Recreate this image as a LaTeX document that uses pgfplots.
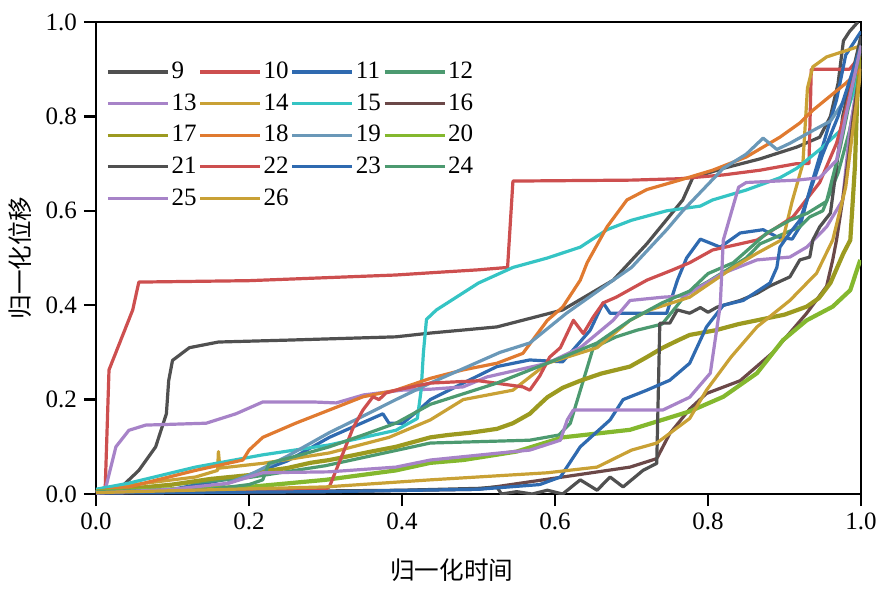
\documentclass[border=0pt]{standalone}
\usepackage{pgfplots}
\pgfplotsset{compat=1.18}
\usepackage{fontspec}
\setmainfont{Liberation Serif}
\newfontfamily\numfont{Liberation Serif}
\newfontfamily\cjk{Noto Sans CJK SC}
\definecolor{c9}{HTML}{505050}
\definecolor{c10}{HTML}{CD4F4F}
\definecolor{c11}{HTML}{2F6AB0}
\definecolor{c12}{HTML}{4C9A70}
\definecolor{c13}{HTML}{A783C8}
\definecolor{c14}{HTML}{C9A135}
\definecolor{c15}{HTML}{35C4C4}
\definecolor{c16}{HTML}{6B4848}
\definecolor{c17}{HTML}{9C9A20}
\definecolor{c18}{HTML}{E07A30}
\definecolor{c19}{HTML}{6A98B8}
\definecolor{c20}{HTML}{84B82E}
\begin{document}
\begin{tikzpicture}
\begin{axis}[
  scale only axis, width=382.5pt, height=236pt,
  xmin=0, xmax=1, ymin=0, ymax=1,
  xtick={0,0.2,0.4,0.6,0.8,1}, ytick={0,0.2,0.4,0.6,0.8,1},
  xticklabels={\numfont 0.0,\numfont 0.2,\numfont 0.4,\numfont 0.6,\numfont 0.8,\numfont 1.0},
  yticklabels={\numfont 0.0,\numfont 0.2,\numfont 0.4,\numfont 0.6,\numfont 0.8,\numfont 1.0},
  tick align=outside, xtick pos=bottom, ytick pos=left,
  major tick length=6pt,
  axis line style={line width=1.2pt},
  every tick/.style={black, line width=1.2pt},
  tick label style={font=\numfont\fontsize{12.5}{14}\selectfont},
  xlabel={\cjk\fontsize{12.3}{14}\selectfont 归一化时间},
  ylabel={\cjk\fontsize{12.3}{14}\selectfont 归一化位移},
  xlabel style={at={(axis description cs:0.465,-0.161)}, anchor=center},
  ylabel style={at={(axis description cs:-0.0993,0.5)}, anchor=center},
  legend columns=4,
  legend cell align=left,
  legend style={draw=none, fill=none, inner sep=0pt, at={(0.013,0.92)}, anchor=north west,
    font=\numfont\fontsize{12.5}{14}\selectfont, /tikz/row sep=4pt,
    /tikz/every even column/.append style={column sep=0pt},
    /tikz/every odd column/.append style={column sep=0pt},
    nodes={inner sep=1pt}},
  legend image code/.code={\draw[#1, line width=1.6pt] (0pt,0pt) -- (30pt,0pt);},
  every axis plot/.append style={line width=1.6pt, line join=round},
]
% 9
\addplot[c9] coordinates {(0,0.005)(0.03,0.01)(0.056,0.05)(0.078,0.10)(0.092,0.17)(0.095,0.24)(0.10,0.283)(0.122,0.31)(0.16,0.322)(0.25,0.326)(0.392,0.333)(0.437,0.341)(0.524,0.354)(0.61,0.39)(0.676,0.453)(0.72,0.53)(0.767,0.623)(0.78,0.67)(0.82,0.69)(0.868,0.71)(0.916,0.735)(0.946,0.756)(0.96,0.80)(0.97,0.87)(0.977,0.96)(0.985,0.98)(0.996,1.0)};
% 10
\addplot[c10] coordinates {(0,0.005)(0.012,0.01)(0.017,0.263)(0.048,0.39)(0.056,0.449)(0.2,0.452)(0.392,0.464)(0.45,0.47)(0.50,0.475)(0.538,0.48)(0.545,0.663)(0.7,0.665)(0.763,0.668)(0.82,0.676)(0.868,0.686)(0.916,0.70)(0.932,0.70)(0.935,0.90)(0.985,0.90)(1.0,0.93)};
% 11
\addplot[c11] coordinates {(0,0.005)(0.1,0.01)(0.2,0.04)(0.25,0.07)(0.305,0.12)(0.375,0.17)(0.383,0.15)(0.401,0.15)(0.422,0.178)(0.437,0.2)(0.48,0.235)(0.524,0.27)(0.567,0.284)(0.61,0.28)(0.646,0.347)(0.663,0.405)(0.672,0.383)(0.746,0.383)(0.76,0.453)(0.772,0.50)(0.79,0.54)(0.816,0.523)(0.842,0.553)(0.872,0.56)(0.89,0.545)(0.91,0.54)(0.92,0.566)(0.933,0.644)(0.955,0.765)(0.968,0.835)(0.98,0.93)(1.0,0.98)};
% 12
\addplot[c12] coordinates {(0,0.005)(0.1,0.02)(0.2,0.035)(0.3,0.06)(0.437,0.108)(0.567,0.114)(0.605,0.125)(0.62,0.15)(0.635,0.23)(0.65,0.31)(0.68,0.333)(0.707,0.347)(0.74,0.36)(0.76,0.40)(0.772,0.425)(0.80,0.45)(0.85,0.50)(0.868,0.53)(0.92,0.566)(0.933,0.587)(0.95,0.60)(0.97,0.68)(0.985,0.77)(1.0,0.9)};
% 13
\addplot[c13] coordinates {(0,0.005)(0.013,0.015)(0.026,0.10)(0.043,0.135)(0.065,0.146)(0.144,0.15)(0.183,0.17)(0.218,0.195)(0.284,0.195)(0.314,0.193)(0.35,0.21)(0.4,0.22)(0.437,0.222)(0.48,0.227)(0.511,0.248)(0.59,0.277)(0.633,0.31)(0.676,0.368)(0.698,0.41)(0.741,0.417)(0.77,0.42)(0.82,0.468)(0.864,0.496)(0.907,0.502)(0.929,0.523)(0.955,0.566)(0.976,0.623)(0.985,0.765)(1.0,0.92)};
% 14
\addplot[c14] coordinates {(0,0.005)(0.05,0.02)(0.13,0.036)(0.159,0.05)(0.16,0.09)(0.162,0.055)(0.218,0.065)(0.305,0.087)(0.383,0.12)(0.437,0.157)(0.48,0.2)(0.545,0.22)(0.59,0.277)(0.655,0.31)(0.698,0.368)(0.724,0.39)(0.776,0.417)(0.833,0.48)(0.864,0.51)(0.898,0.54)(0.91,0.62)(0.924,0.70)(0.93,0.86)(0.937,0.905)(0.955,0.926)(0.995,0.947)(1.0,0.95)};
% 15
\addplot[c15] coordinates {(0,0.01)(0.043,0.023)(0.13,0.057)(0.218,0.083)(0.305,0.104)(0.392,0.135)(0.42,0.16)(0.425,0.22)(0.428,0.30)(0.432,0.37)(0.445,0.39)(0.50,0.447)(0.545,0.48)(0.59,0.50)(0.633,0.523)(0.668,0.56)(0.70,0.58)(0.746,0.60)(0.79,0.61)(0.806,0.623)(0.85,0.644)(0.894,0.67)(0.916,0.69)(0.95,0.735)(0.973,0.77)(0.99,0.85)(1.0,0.95)};
% 16
\addplot[c16] coordinates {(0,0.002)(0.3,0.005)(0.5,0.01)(0.61,0.036)(0.698,0.057)(0.733,0.075)(0.75,0.128)(0.776,0.18)(0.798,0.213)(0.842,0.24)(0.885,0.30)(0.929,0.383)(0.955,0.44)(0.963,0.496)(0.968,0.538)(0.976,0.623)(0.985,0.73)(0.99,0.80)(1.0,0.92)};
% 17
\addplot[c17, line width=2.1pt] coordinates {(0,0.005)(0.05,0.012)(0.1,0.02)(0.15,0.032)(0.2,0.04)(0.218,0.048)(0.25,0.055)(0.28,0.066)(0.305,0.072)(0.33,0.08)(0.36,0.09)(0.392,0.10)(0.41,0.108)(0.437,0.12)(0.46,0.125)(0.49,0.13)(0.524,0.138)(0.545,0.15)(0.567,0.17)(0.58,0.19)(0.59,0.205)(0.61,0.225)(0.633,0.24)(0.66,0.255)(0.698,0.27)(0.72,0.29)(0.741,0.31)(0.76,0.325)(0.776,0.337)(0.81,0.347)(0.84,0.36)(0.864,0.368)(0.9,0.38)(0.929,0.397)(0.945,0.415)(0.96,0.447)(0.977,0.51)(0.986,0.538)(0.992,0.693)(0.995,0.835)(1.0,0.95)};
% 18
\addplot[c18] coordinates {(0,0.005)(0.043,0.015)(0.13,0.05)(0.192,0.072)(0.2,0.093)(0.218,0.12)(0.261,0.15)(0.305,0.178)(0.349,0.206)(0.392,0.22)(0.437,0.245)(0.48,0.263)(0.524,0.277)(0.558,0.298)(0.59,0.368)(0.61,0.396)(0.633,0.453)(0.642,0.49)(0.668,0.566)(0.694,0.623)(0.72,0.645)(0.763,0.665)(0.806,0.686)(0.85,0.714)(0.894,0.756)(0.92,0.786)(0.937,0.813)(0.98,0.87)(1.0,0.9)};
% 19
\addplot[c19] coordinates {(0,0.003)(0.15,0.01)(0.2,0.04)(0.25,0.08)(0.305,0.13)(0.349,0.165)(0.392,0.2)(0.437,0.235)(0.528,0.30)(0.567,0.32)(0.615,0.383)(0.676,0.453)(0.70,0.48)(0.746,0.56)(0.767,0.60)(0.82,0.69)(0.85,0.72)(0.872,0.754)(0.89,0.73)(0.907,0.743)(0.937,0.77)(0.96,0.79)(0.985,0.85)(1.0,0.97)};
% 20
\addplot[c20, line width=2.1pt] coordinates {(0,0.005)(0.1,0.01)(0.2,0.015)(0.3,0.03)(0.392,0.05)(0.437,0.066)(0.48,0.072)(0.55,0.09)(0.61,0.12)(0.698,0.136)(0.776,0.175)(0.82,0.206)(0.864,0.256)(0.898,0.326)(0.929,0.368)(0.963,0.397)(0.986,0.432)(0.999,0.496)};
% 21
\addplot[c9] coordinates {(0,0.005)(0.2,0.005)(0.4,0.008)(0.5,0.012)(0.524,0.015)(0.53,0.0)(0.55,0.005)(0.57,0.0)(0.59,0.008)(0.61,0.0)(0.633,0.03)(0.655,0.008)(0.672,0.036)(0.689,0.015)(0.715,0.05)(0.733,0.065)(0.737,0.362)(0.75,0.362)(0.76,0.39)(0.776,0.383)(0.79,0.395)(0.80,0.385)(0.812,0.396)(0.842,0.41)(0.864,0.425)(0.88,0.44)(0.907,0.46)(0.92,0.496)(0.933,0.502)(0.937,0.538)(0.946,0.566)(0.96,0.595)(0.968,0.693)(0.976,0.80)(0.99,0.9)(1.0,0.97)};
% 22
\addplot[c10] coordinates {(0,0.003)(0.2,0.005)(0.3,0.01)(0.305,0.015)(0.323,0.087)(0.336,0.14)(0.349,0.178)(0.362,0.206)(0.37,0.2)(0.379,0.214)(0.392,0.22)(0.437,0.235)(0.5,0.24)(0.558,0.227)(0.567,0.22)(0.58,0.25)(0.593,0.29)(0.607,0.31)(0.624,0.368)(0.637,0.34)(0.65,0.375)(0.663,0.405)(0.68,0.417)(0.72,0.453)(0.754,0.475)(0.776,0.49)(0.806,0.517)(0.864,0.538)(0.911,0.587)(0.946,0.66)(0.968,0.743)(0.98,0.813)(0.99,0.88)(1.0,0.95)};
% 23
\addplot[c11] coordinates {(0,0.002)(0.3,0.005)(0.5,0.01)(0.58,0.02)(0.607,0.036)(0.633,0.10)(0.672,0.157)(0.689,0.2)(0.72,0.22)(0.75,0.241)(0.776,0.277)(0.798,0.354)(0.82,0.40)(0.846,0.41)(0.881,0.447)(0.89,0.48)(0.894,0.523)(0.907,0.553)(0.92,0.58)(0.933,0.64)(0.95,0.72)(0.97,0.80)(0.99,0.9)(1.0,0.95)};
% 24
\addplot[c12] coordinates {(0,0.005)(0.15,0.01)(0.2,0.02)(0.218,0.03)(0.226,0.065)(0.261,0.08)(0.305,0.10)(0.349,0.125)(0.392,0.15)(0.437,0.19)(0.524,0.235)(0.61,0.29)(0.655,0.32)(0.698,0.368)(0.74,0.405)(0.776,0.43)(0.80,0.467)(0.833,0.49)(0.877,0.553)(0.907,0.58)(0.93,0.595)(0.955,0.62)(0.973,0.735)(1.0,0.95)};
% 25
\addplot[c13] coordinates {(0,0.002)(0.1,0.01)(0.174,0.023)(0.218,0.045)(0.305,0.047)(0.392,0.057)(0.437,0.072)(0.528,0.087)(0.567,0.093)(0.607,0.114)(0.616,0.157)(0.624,0.178)(0.741,0.178)(0.776,0.205)(0.803,0.256)(0.816,0.40)(0.82,0.538)(0.84,0.65)(0.85,0.66)(0.916,0.665)(0.946,0.67)(0.968,0.707)(0.98,0.80)(1.0,0.95)};
% 26
\addplot[c14] coordinates {(0,0.003)(0.3,0.015)(0.437,0.03)(0.59,0.045)(0.655,0.057)(0.70,0.093)(0.733,0.108)(0.776,0.16)(0.798,0.22)(0.83,0.29)(0.864,0.354)(0.907,0.41)(0.942,0.468)(0.963,0.538)(0.98,0.65)(0.99,0.78)(1.0,0.9)};
\legend{9,10,11,12,13,14,15,16,17,18,19,20,21,22,23,24,25,26}
\end{axis}
\pgfresetboundingbox
\path[use as bounding box] ([shift={(-48pt,-48.5pt)}]current axis.south west) rectangle ([shift={(12.5pt,11pt)}]current axis.north east);
\end{tikzpicture}
\end{document}
